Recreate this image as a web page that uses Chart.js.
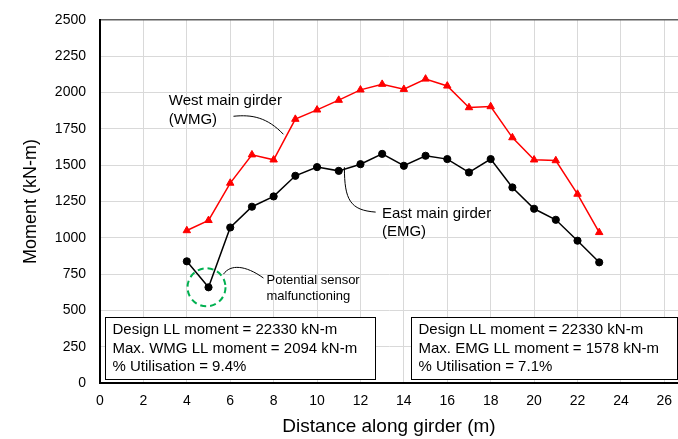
<!DOCTYPE html>
<html><head><meta charset="utf-8">
<script src="https://cdn.jsdelivr.net/npm/chart.js@4"></script>
<style>html,body{margin:0;padding:0;background:#fff}canvas{display:block}</style>
</head><body>
<canvas id="c" width="678" height="439"></canvas>
<script>
// ---- data ----
const distances = [4,5,6,7,8,9,10,11,12,13,14,15,16,17,18,19,20,21,22,23];
const wmgMoment = [1050,1120,1377,1572,1537,1817,1881,1948,2019,2058,2023,2094,2046,1897,1904,1690,1537,1532,1301,1037];
const emgMoment = [838,659,1071,1214,1285,1427,1487,1461,1507,1578,1496,1565,1542,1450,1542,1347,1200,1124,980,831];
const xTicks = [0,2,4,6,8,10,12,14,16,18,20,22,24,26];
const yTicks = [0,250,500,750,1000,1250,1500,1750,2000,2250,2500];
const wmgLabel = ['West main girder','(WMG)'];
const emgLabel = ['East main girder','(EMG)'];
const sensorLabel = ['Potential sensor','malfunctioning'];
const wmgBox = ['Design LL moment = 22330 kN-m','Max. WMG LL moment = 2094 kN-m','% Utilisation = 9.4%'];
const emgBox = ['Design LL moment = 22330 kN-m','Max. EMG LL moment = 1578 kN-m','% Utilisation = 7.1%'];
const suspectDistance = 5;

const FAM = '"Liberation Sans", Arial, Helvetica, sans-serif';

// annotation placement (data units)
const annot = {
  id: 'annot',
  afterDatasetsDraw(chart) {
    const {ctx, scales: {x, y}} = chart;
    const X = v => x.getPixelForValue(v), Y = v => y.getPixelForValue(v);
    ctx.save();
    // leader curves
    ctx.strokeStyle = '#000'; ctx.lineWidth = 1;
    const curves = [
      [[6.15,1837],[7.0,1850],[7.7,1830],[8.45,1713]],
      [[11.26,1486],[11.26,1259],[11.53,1190],[12.70,1177]],
      [[5.69,750],[6.01,819],[6.70,812],[7.53,723]]
    ];
    curves.forEach(c => {
      ctx.beginPath();
      ctx.moveTo(X(c[0][0]), Y(c[0][1]));
      ctx.bezierCurveTo(X(c[1][0]), Y(c[1][1]), X(c[2][0]), Y(c[2][1]), X(c[3][0]), Y(c[3][1]));
      ctx.stroke();
    });
    // dashed circle around suspect point
    const si = distances.indexOf(suspectDistance);
    ctx.strokeStyle = '#00b050'; ctx.lineWidth = 2; ctx.setLineDash([6,4]);
    ctx.beginPath();
    ctx.arc(X(distances[si]) - 2, Y(emgMoment[si]), 19, 0, Math.PI * 2);
    ctx.stroke();
    ctx.setLineDash([]);
    // text boxes
    const boxes = [[0.23,12.68,wmgBox],[14.33,26.58,emgBox]];
    boxes.forEach(b => {
      const l = Math.round(X(b[0])) + 0.5, r = Math.round(X(b[1])) + 0.5;
      const t = Math.round(Y(454)) + 0.5, bt = Math.round(Y(25)) + 0.5;
      ctx.fillStyle = '#fff';
      ctx.fillRect(l, t, r - l, bt - t);
      ctx.strokeStyle = '#000'; ctx.lineWidth = 1;
      ctx.strokeRect(l, t, r - l, bt - t);
      ctx.fillStyle = '#000';
      ctx.font = '15px ' + FAM;
      ctx.textBaseline = 'middle'; ctx.textAlign = 'left';
      [365,234,110].forEach((v, i) => ctx.fillText(b[2][i], l + 7, Y(v)));
    });
    // labels
    ctx.fillStyle = '#000'; ctx.textBaseline = 'middle'; ctx.textAlign = 'left';
    ctx.font = '15px ' + FAM;
    ctx.fillText(wmgLabel[0], X(3.17), Y(1943));
    ctx.fillText(wmgLabel[1], X(3.17), Y(1810));
    ctx.fillText(emgLabel[0], X(12.99), Y(1168));
    ctx.fillText(emgLabel[1], X(12.99), Y(1041));
    ctx.font = '13px ' + FAM;
    ctx.fillText(sensorLabel[0], X(7.67), Y(709));
    ctx.fillText(sensorLabel[1], X(7.67), Y(599));
    ctx.restore();
  }
};

new Chart(document.getElementById('c'), {
  type: 'line',
  data: {
    datasets: [
      {
        label: 'West main girder (WMG)',
        data: distances.map((d, i) => ({x: d, y: wmgMoment[i]})),
        borderColor: '#ff0000', backgroundColor: '#ff0000',
        borderWidth: 1.5, pointStyle: 'triangle', pointRadius: 4.3,
        pointBorderWidth: 1, tension: 0
      },
      {
        label: 'East main girder (EMG)',
        data: distances.map((d, i) => ({x: d, y: emgMoment[i]})),
        borderColor: '#000000', backgroundColor: '#000000',
        borderWidth: 1.5, pointStyle: 'circle', pointRadius: 3.6,
        pointBorderWidth: 1, tension: 0
      }
    ]
  },
  options: {
    responsive: false,
    animation: false,
    layout: {autoPadding: false, padding: {top: 20, right: 0, bottom: 0, left: 0}},
    plugins: {legend: {display: false}, tooltip: {enabled: false}},
    scales: {
      x: {
        type: 'linear', min: 0, max: 26.63,
        afterBuildTicks: s => { s.ticks = xTicks.map(v => ({value: v})); },
        afterFit: s => { s.height = 56; s.paddingRight = 0; },
        ticks: {font: {size: 14, family: FAM, lineHeight: '37px'}, color: '#000', padding: 0, maxRotation: 0, autoSkip: false, callback: v => String(v)},
        grid: {color: '#d9d9d9', lineWidth: 1, drawTicks: false},
        border: {color: '#000', width: 2},
        title: {display: true, text: 'Distance along girder (m)', font: {size: 19, family: FAM}, color: '#000', padding: {top: 0, bottom: 1}}
      },
      y: {
        type: 'linear', min: 0, max: 2500,
        afterBuildTicks: s => { s.ticks = yTicks.map(v => ({value: v})); },
        afterFit: s => { s.width = 100; s.paddingTop = 0; },
        ticks: {font: {size: 14, family: FAM}, color: '#000', padding: 14, callback: v => String(v)},
        grid: {
          color: c => (c.tick && c.tick.value === 2500) ? '#606060' : '#d9d9d9',
          lineWidth: c => (c.tick && c.tick.value === 2500) ? 1.5 : 1,
          drawTicks: false
        },
        border: {color: '#000', width: 2},
        title: {display: true, text: 'Moment (kN-m)', font: {size: 18, family: FAM}, color: '#000', padding: {top: 20, bottom: 0}}
      }
    }
  },
  plugins: [annot]
});
</script>
</body></html>
